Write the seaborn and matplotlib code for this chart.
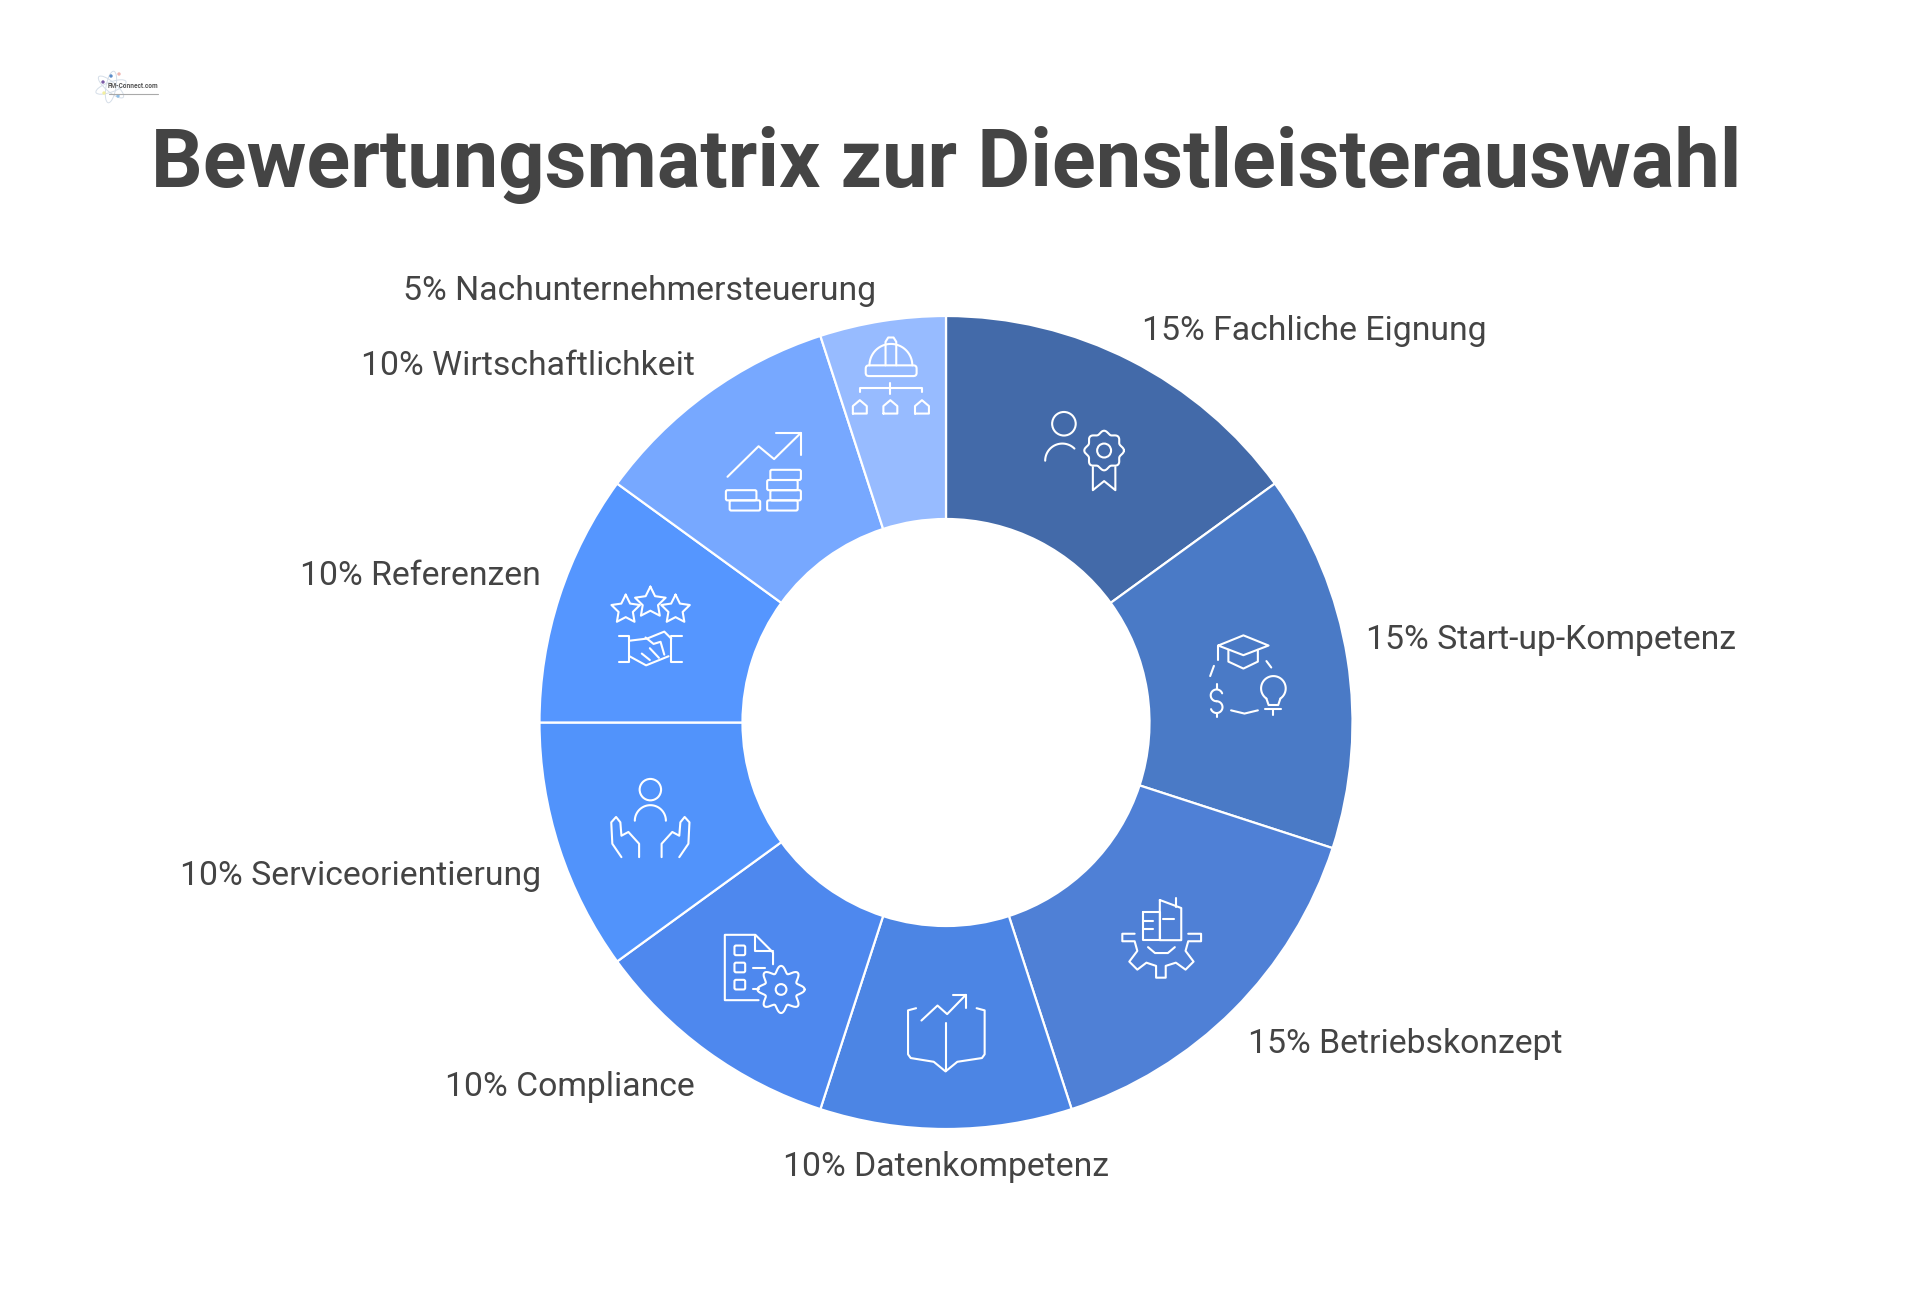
import numpy as np
import matplotlib
matplotlib.use("Agg")
import matplotlib.pyplot as plt
from matplotlib.patches import Circle, Ellipse, FancyBboxPatch
import seaborn as sns

sns.set_theme(style="white")
plt.rcParams['font.family'] = ['Roboto', 'DejaVu Sans']

TITLE = "Bewertungsmatrix zur Dienstleisterauswahl"
LOGO = "FM-Connect.com"
categories = ["Fachliche Eignung", "Start-up-Kompetenz", "Betriebskonzept", "Datenkompetenz",
              "Compliance", "Serviceorientierung", "Referenzen", "Wirtschaftlichkeit",
              "Nachunternehmersteuerung"]
values = [15, 15, 15, 10, 10, 10, 10, 10, 5]
colors = ["#436AA9", "#4A7AC6", "#4F80D6", "#4C85E4", "#4E88EE", "#5193FB", "#5596FF", "#77A8FF", "#97BBFF"]

# layout (pixel positions of the labels)
label_xy = [(1142.5, 331), (1366.5, 640), (1248, 1044), (946, 1167), (694.5, 1087),
            (541, 876), (541, 576), (694.5, 366), (876, 291)]
label_ha = ["left", "left", "left", "center", "right", "right", "right", "right", "right"]

W, H = 1920, 1305
fig = plt.figure(figsize=(W / 100, H / 100), dpi=100, facecolor="white")
ax = fig.add_axes([0, 0, 1, 1])

cx, cy, R, r_in = 946, 722.5, 406.5, 203.5
ax.pie(values, colors=colors, startangle=90, counterclock=False, radius=R,
       center=(cx, H - cy), frame=True,
       wedgeprops=dict(width=R - r_in, edgecolor="white", linewidth=1.6))
ax.set_xlim(0, W)
ax.set_ylim(0, H)
ax.set_aspect("equal")
ax.axis("off")

TXT = "#444444"
ax.text(946, H - 165, TITLE, fontsize=58.5, fontweight="bold", color=TXT, ha="center", va="center")
for c, v, (x, y), ha in zip(categories, values, label_xy, label_ha):
    ax.text(x, H - y, f"{v}% {c}", fontsize=24.3, color=TXT, ha=ha, va="center")

# ---- icon helpers: coordinates are measured in a crop at 1.867x from (540, 300)
S = 840 / 1568
def P(x, y):
    return 540 + x * S, H - (300 + y * S)
LW = 1.5
IC = "white"
def line(*pts):
    xy = np.array([P(*p) for p in pts])
    ax.plot(xy[:, 0], xy[:, 1], color=IC, lw=LW, solid_capstyle="round", solid_joinstyle="round", zorder=5)
def closed(*pts):
    line(*pts, pts[0])
def circle(x, y, r):
    ax.add_patch(Circle(P(x, y), r * S, fill=False, ec=IC, lw=LW, zorder=5))
def arc(x, y, r, a0, a1):
    t = np.radians(np.linspace(a0, a1, 40))
    line(*zip(x + r * np.cos(t), y - r * np.sin(t)))
def rrect(x, y, w, h, rad=3):
    x0, y1 = P(x, y + h)
    ax.add_patch(FancyBboxPatch((x0, y1), w * S, h * S, boxstyle=f"round,pad=0,rounding_size={rad * S}",
                                fill=False, ec=IC, lw=LW, zorder=5))
def gear(x, y, r_out, r_root, n):
    t = np.linspace(0, 2 * np.pi, 240)
    rr = (r_out + r_root) / 2 + (r_out - r_root) / 2 * np.cos(n * t)
    line(*zip(x + rr * np.cos(t), y + rr * np.sin(t)))
def star(x, y, r):
    t = np.radians(90 + 36 * np.arange(11))
    rr = np.where(np.arange(11) % 2 == 0, r, r * 0.5)
    line(*zip(x + rr * np.cos(t), y - rr * np.sin(t)))

# 1 person with award
circle(978, 231, 22)
arc(975, 300, 32, 180, 45)
gear(1053, 281, 37, 31, 8)
circle(1053, 281, 13)
line((1032, 312), (1032, 355), (1053, 338), (1074, 355), (1074, 312))

# 2 mortarboard, dollar, bulb
closed((1266, 645), (1313, 626), (1360, 645), (1313, 663))
line((1285, 653), (1285, 675), (1313, 688), (1340, 675), (1340, 653))
line((1266, 645), (1266, 672))
line((1258, 683), (1251, 702))
line((1356, 674), (1365, 686))
line((1290, 766), (1315, 772), (1340, 766))
arc(1263, 738, 11, 20, 270)
arc(1263, 760, 11, 90, -160)
line((1263, 717), (1263, 727)); line((1263, 771), (1263, 778))
arc(1369, 725, 23, -55, 235)
line((1356, 744), (1360, 756), (1378, 756), (1382, 744))
line((1354, 763), (1384, 763)); line((1369, 763), (1369, 775))

# 3 building on gear
closed((1125, 1142), (1157, 1142), (1157, 1195), (1125, 1195))
closed((1157, 1120), (1197, 1135), (1197, 1195), (1157, 1195))
line((1188, 1116), (1188, 1133))
line((1125, 1160), (1145, 1160)); line((1125, 1175), (1145, 1175))
line((1163, 1155), (1183, 1155))
line((1110, 1183), (1087, 1183), (1087, 1197), (1110, 1197), (1115, 1215), (1100, 1235),
     (1115, 1250), (1132, 1237), (1150, 1243), (1150, 1265), (1168, 1265), (1168, 1243),
     (1187, 1237), (1205, 1250), (1220, 1235), (1205, 1215), (1210, 1197), (1234, 1197),
     (1234, 1183), (1210, 1183))
line((1135, 1208), (1148, 1219), (1172, 1219), (1185, 1208))

# 4 book and arrow
line((702, 1322), (687, 1326), (687, 1408), (692, 1415), (735, 1422), (757, 1440),
     (779, 1422), (825, 1415), (830, 1408), (830, 1326), (815, 1322))
line((757, 1350), (757, 1440))
line((712, 1345), (742, 1317), (760, 1333), (795, 1297))
line((770, 1297), (795, 1297), (795, 1322))

# 5 checklist and gear
line((408, 1307), (345, 1307), (345, 1185), (402, 1185), (435, 1218), (435, 1240))
line((402, 1187), (402, 1216), (435, 1216))
for yy in (1205, 1237, 1269):
    rrect(363, yy, 20, 18)
line((398, 1246), (420, 1246)); line((398, 1287), (408, 1287))
gear(450, 1287, 44, 31, 8)
circle(450, 1287, 10)

# 6 person held by hands
circle(206, 914, 20)
arc(206, 972, 29, 180, 0)
for sgn in (1, -1):
    m = lambda x: 206 + sgn * (x - 206)
    line((m(152), 1040), (m(135), 1015), (m(133), 975), (m(142), 965), (m(150), 975), (m(152), 1000),
         (m(165), 993), (m(185), 1015), (m(185), 1040))

# 7 stars and handshake
star(160, 578, 28); star(206, 565, 30); star(253, 578, 28)
line((147, 628), (167, 628), (167, 675), (147, 675))
line((265, 628), (245, 628), (245, 675), (265, 675))
line((167, 636), (200, 632), (232, 619), (245, 632))
line((167, 665), (198, 682), (240, 665))
line((197, 630), (212, 642), (225, 638), (232, 662))
line((190, 660), (205, 672)); line((205, 650), (222, 668))

# 8 growth and coins
line((350, 330), (408, 273), (437, 297), (487, 248))
line((440, 248), (487, 248), (487, 290))
for x0, y0 in ((347, 355), (354, 374), (430, 317), (424, 336), (430, 355), (424, 374)):
    rrect(x0, y0, 57, 19)

# 9 helmet and hierarchy
arc(655, 122, 40, 0, 180)
line((645, 122), (645, 78), (650, 70), (660, 70), (665, 78), (665, 122))
rrect(608, 122, 95, 20, 6)
line((597, 172), (597, 165), (713, 165), (713, 172))
line((654, 155), (654, 175))
for x0 in (597, 654, 713):
    closed((x0 - 13, 212), (x0 - 13, 198), (x0, 187), (x0 + 13, 198), (x0 + 13, 212))

# ---- logo, top left
for ang in (20, 80, 140):
    ax.add_patch(Ellipse((111, H - 87), 32, 10, angle=ang, fill=False, ec="#D5DEE8", lw=0.7, zorder=2))
for (x0, y0), col in zip(((103, 82), (111, 76), (119, 74), (104, 93), (118, 96)),
                         ("#7B5AA6", "#5B8CC8", "#F0B6B0", "#F3EFA0", "#8DBDE6")):
    ax.add_patch(Circle((x0, H - y0), 1.7, color=col, zorder=3, lw=0))
ax.text(108, H - 86, LOGO, fontsize=4.7, fontweight="bold", color="#555555", ha="left", va="center", zorder=4)
ax.plot([109, 158], [H - 93.5, H - 93.5], color="#AAAAAA", lw=0.8, zorder=4)

fig.savefig("out.png", dpi=100, facecolor="white")
